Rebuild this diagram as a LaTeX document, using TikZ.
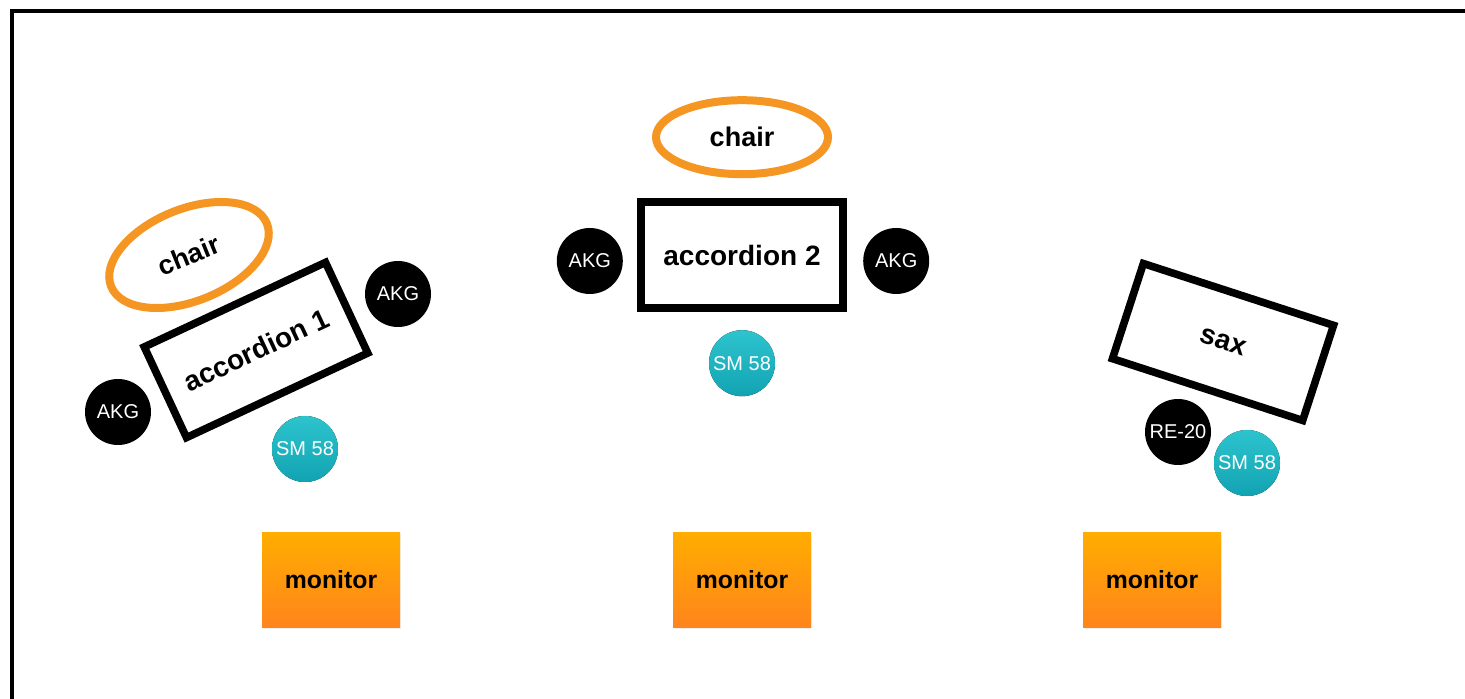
\documentclass[tikz,border=0pt]{standalone}
\usepackage{fontspec}
\setmainfont{Liberation Sans}
\usepackage{pgf,tikz}
\usetikzlibrary{shapes, positioning, shadows}
\definecolor{sillanaranja}{RGB}{245,150,35}
\definecolor{tealarriba}{RGB}{45,196,206}
\definecolor{tealabajo}{RGB}{18,163,178}
\definecolor{monarriba}{RGB}{255,173,0}
\definecolor{monabajo}{RGB}{255,132,28}
\tikzstyle{instrument} = [draw=black, line width=3.8pt, rectangle, inner sep=0pt, minimum width=100pt, minimum height=50pt, font=\fontsize{14}{16}\selectfont\bfseries]
\tikzstyle{seat} = [draw=sillanaranja, line width=4pt, ellipse, inner sep=0pt, minimum width=86pt, minimum height=37pt, font=\fontsize{13.5}{16}\selectfont\bfseries]
\tikzstyle{mic} = [circle, fill=black, text=white, inner sep=0pt, minimum size=33pt, font=\fontsize{10}{12}\selectfont]
\tikzstyle{sm58} = [mic, top color=tealarriba, bottom color=tealabajo]
\tikzstyle{monitorbox} = [rectangle, top color=monarriba, bottom color=monabajo, minimum width=69pt, minimum height=47.5pt, drop shadow={opacity=0.12, shadow xshift=0.6pt, shadow yshift=-0.6pt}, font=\fontsize{12.4}{14}\selectfont\bfseries]

\begin{document}
\begin{tikzpicture}[x=0.5pt, y=-0.5pt]
	\useasboundingbox (0,0) rectangle (1465,699);
	\clip (0,0) rectangle (1465,699);
	\draw[line width=2pt] (12,11) rectangle (1490,720);
	% accordion 1
	\node[instrument, rotate=25] (acc1) at (256,350) {accordion 1};
	\node[seat, rotate=22, minimum width=84pt, minimum height=46pt] (chair1) at (189,255) {chair};
	\node[mic] (akg1r) at (398,294) {AKG};
	\node[mic] (akg1l) at (118,412) {AKG};
	\node[sm58] (sm1) at (305,449) {SM 58};
	\node[monitorbox] (mon1) at (331,580) {monitor};
	% accordion 2
	\node[instrument, minimum width=101pt, minimum height=53pt] (acc2) at (742,255) {accordion 2};
	\node[seat, above=10pt of acc2] (chair2) {chair};
	\node[mic, left=7pt of acc2, yshift=-3pt] (akg2l) {AKG};
	\node[mic, right=8pt of acc2, yshift=-3pt] (akg2r) {AKG};
	\node[sm58, below=9pt of acc2] (sm2) {SM 58};
	\node[monitorbox] (mon2) at (742,580) {monitor};
	% sax
	\node[instrument, rotate=-18] (sax) at (1223,342) {sax};
	\node[mic] (re20) at (1178,432) {RE-20};
	\node[sm58] (sm3) at (1247,463) {SM 58};
	\node[monitorbox] (mon3) at (1152,580) {monitor};
\end{tikzpicture}
\end{document}
